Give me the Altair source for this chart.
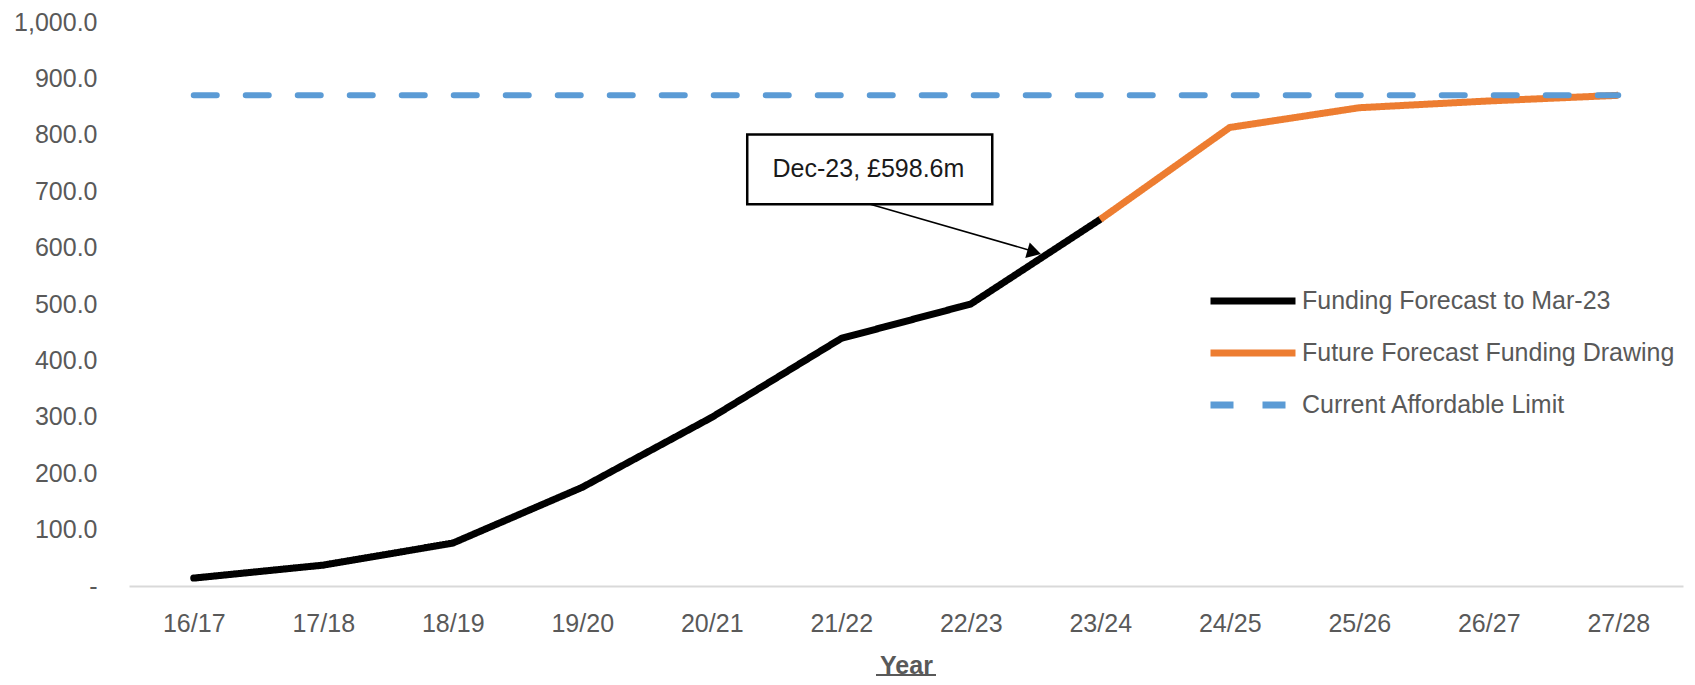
import json
import altair as alt
import pandas as pd

# ---------------- data ----------------
years = ["16/17", "17/18", "18/19", "19/20", "20/21", "21/22",
         "22/23", "23/24", "24/25", "25/26", "26/27", "27/28"]

actual_years = ["16/17", "17/18", "18/19", "19/20", "20/21", "21/22", "22/23", "23/24"]
actual_values = [14, 37, 76, 175, 299, 439, 500, 650]

future_years = ["23/24", "24/25", "25/26", "26/27", "27/28"]
future_values = [650, 813, 848, 860, 870]

limit_years = ["16/17", "27/28"]
limit_values = [870, 870]

series_names = ["Funding Forecast to Mar-23",
                "Future Forecast Funding Drawing",
                "Current Affordable Limit"]

annotation_text = "Dec-23, £598.6m"
annotation_value = 598.6

pos = {y: i for i, y in enumerate(years)}

df_actual = pd.DataFrame({"idx": [pos[y] for y in actual_years],
                          "value": actual_values, "series": series_names[0]})
df_future = pd.DataFrame({"idx": [pos[y] for y in future_years],
                          "value": future_values, "series": series_names[1]})
df_limit = pd.DataFrame({"idx": [pos[y] for y in limit_years],
                         "value": limit_values, "series": series_names[2]})

# annotation geometry (in data units)
df_box = pd.DataFrame({"idx": [4.274], "idx2": [6.166], "value": [800.4], "value2": [676.7]})
df_text = pd.DataFrame({"idx": [5.21], "value": [740.0], "label": [annotation_text]})
df_arrow = pd.DataFrame({"idx": [5.224], "idx2": [6.46], "value": [676.7], "value2": [595.0]})
df_head = pd.DataFrame({"idx": [6.49], "value": [592.0]})

# ---------------- styles ----------------
GRAY = "#595959"
AXIS_FONT = "Liberation Sans"

x_label_expr = json.dumps(years) + "[datum.value]"

x_enc = alt.X(
    "idx:Q",
    scale=alt.Scale(domain=[-0.5, 11.5], nice=False, zero=False),
    axis=alt.Axis(
        values=list(range(len(years))),
        labelExpr=x_label_expr,
        ticks=False, grid=False,
        domainColor="#d9d9d9", domainWidth=2,
        labelFont=AXIS_FONT, labelFontSize=25, labelColor=GRAY,
        labelPadding=25,
        title="Year", titleFont=AXIS_FONT, titleFontSize=25,
        titleFontWeight="bold", titleColor=GRAY, titlePadding=17,
    ),
)
y_enc = alt.Y(
    "value:Q",
    scale=alt.Scale(domain=[0, 1000], nice=False),
    axis=alt.Axis(
        values=list(range(0, 1001, 100)),
        labelExpr="datum.value == 0 ? '-\u00a0\u00a0' : format(datum.value, ',.1f')",
        ticks=False, grid=False, domain=False,
        labelFont=AXIS_FONT, labelFontSize=25, labelColor=GRAY,
        labelPadding=32, title=None,
    ),
)

legend = alt.Legend(
    title=None, orient="none", legendX=1099, legendY=254,
    symbolType="M-2,0H2", symbolSize=1806, symbolStrokeWidth=7,
    labelFont=AXIS_FONT, labelFontSize=25, labelColor=GRAY, labelLimit=500,
    labelOffset=24, rowPadding=13, padding=0,
)
color_enc = alt.Color(
    "series:N",
    scale=alt.Scale(domain=series_names, range=["#000000", "#ED7D31", "#5B9BD5"]),
    legend=legend,
)
dash_enc = alt.StrokeDash(
    "series:N",
    scale=alt.Scale(domain=series_names, range=[[1, 0], [1, 0], [23, 29]]),
    legend=legend,
)

line_actual = alt.Chart(df_actual).mark_line(
    strokeWidth=7, strokeCap="round", strokeJoin="round"
).encode(x=x_enc, y=y_enc, color=color_enc, strokeDash=dash_enc)

line_future = alt.Chart(df_future).mark_line(
    strokeWidth=7, strokeCap="butt", strokeJoin="round"
).encode(x="idx:Q", y="value:Q", color=color_enc, strokeDash=dash_enc)

line_limit = alt.Chart(df_limit).mark_line(
    strokeWidth=6, strokeCap="round"
).encode(x="idx:Q", y="value:Q", color=color_enc, strokeDash=dash_enc)

box = alt.Chart(df_box).mark_rect(
    fill="white", stroke="black", strokeWidth=2.5
).encode(x="idx:Q", x2="idx2", y="value:Q", y2="value2")

box_text = alt.Chart(df_text).mark_text(
    font=AXIS_FONT, fontSize=25, color="#1a1a1a", align="center", baseline="middle"
).encode(x="idx:Q", y="value:Q", text="label:N")

arrow = alt.Chart(df_arrow).mark_rule(color="black", strokeWidth=1.5).encode(
    x="idx:Q", x2="idx2", y="value:Q", y2="value2"
)
head = alt.Chart(df_head).mark_point(
    shape="triangle-right", filled=True, size=260, angle=16, color="black", opacity=1
).encode(x="idx:Q", y="value:Q")

underline = alt.Chart(df_text).mark_rule(color=GRAY, strokeWidth=2).encode(
    x=alt.value(747), x2=alt.value(807), y=alt.value(653)
)

chart = alt.layer(
    line_actual, line_future, line_limit, arrow, head, box, box_text, underline
).properties(
    width=1554, height=564,
    padding={"left": 121, "top": 14, "right": 4, "bottom": 91},
    autosize=alt.AutoSizeParams(type="none"),
    background="white",
).configure_view(stroke=None)

chart.save("out.html", embed_options={"renderer": "svg", "actions": False})
